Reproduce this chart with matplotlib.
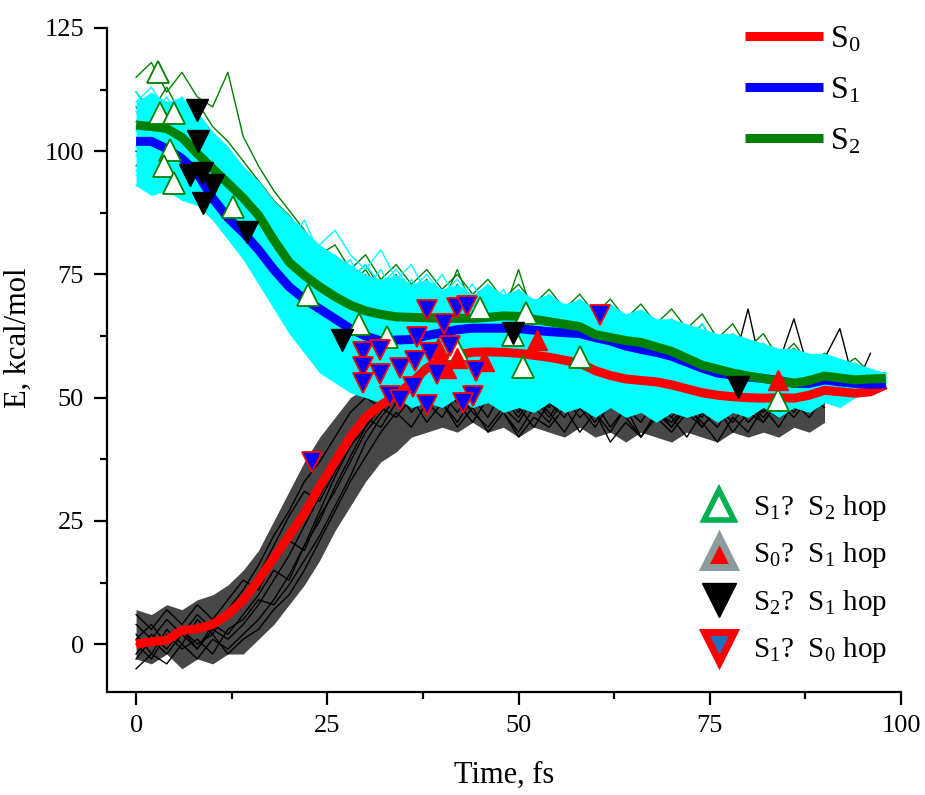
import numpy as np
import matplotlib
matplotlib.use("Agg")
import matplotlib.pyplot as plt
from matplotlib.lines import Line2D

plt.rcParams['font.family'] = ['Liberation Serif', 'DejaVu Serif']
plt.rcParams['mathtext.fontset'] = 'custom'
plt.rcParams['mathtext.rm'] = 'Liberation Serif'
plt.rcParams['mathtext.it'] = 'Liberation Serif:italic'

# ---------------- data ----------------
# averaged state energies
mean_t = [0, 2, 4, 6, 8, 10, 12, 14, 16, 18, 20, 22, 24, 26, 28, 30, 32, 34, 36, 38, 40,
          42, 44, 46, 48, 50, 52, 54, 56, 58, 60, 62, 64, 66, 68, 70, 72, 74, 76, 78, 80,
          82, 84, 86, 88, 90, 92, 94, 96, 98]
s0_mean = [0, 0.5, 0.8, 2.8, 3.1, 4.0, 6.0, 8.9, 13, 17.5, 22, 26.5, 32, 37, 42, 46, 48.5, 50.5, 53, 56, 57.6,
           58.7, 59.2, 59.3, 59.2, 59.0, 58.6, 58.2, 57.6, 57.0, 55.5, 54.5, 53.8, 53.5, 53.2, 52.6, 51.8, 51.0, 50.5, 50.2, 50.0,
           49.9, 50.0, 49.9, 50.5, 51.5, 51.2, 50.9, 51.2, 52.6]
s1_mean = [102, 102, 100.5, 98.5, 95.5, 90.5, 86.5, 83.5, 80, 76, 72.5, 70, 68, 66, 64, 62.5, 61.5, 61.7, 61.8, 62.6, 63.2,
           63.8, 64.1, 64.1, 64.1, 64.0, 63.7, 63.4, 63.2, 63.0, 62.2, 61.5, 60.5, 59.8, 59.2, 58.4, 57.2, 56.0, 55.0, 54.6, 54.2,
           53.9, 53.5, 52.9, 52.9, 53.6, 53.2, 52.9, 52.7, 52.8]
s2_mean = [105.3, 105.0, 104.6, 102.8, 99.5, 96.5, 93.5, 90.5, 87, 82, 77.5, 74.8, 72.5, 70.5, 68.8, 67.6, 66.9, 66.4, 66.3, 66.2, 66.1,
           66.1, 66.1, 66.3, 66.6, 66.5, 65.9, 65.4, 64.9, 64.4, 62.8, 62.2, 61.6, 61.2, 60.3, 59.4, 58.0, 56.6, 55.8, 55.0, 54.4,
           53.9, 53.4, 52.9, 53.5, 54.4, 54.0, 53.6, 53.8, 53.9]

# dense envelopes of the trajectory bundles, every 2 fs from t = 0
s1_band_low = [93, 91, 92, 90, 89, 86, 82, 78, 73, 68, 63, 59, 55, 53, 51, 50, 49, 50, 48, 49,
               48, 50, 48, 49, 47, 48, 47, 49, 47, 48, 46, 48, 46, 47, 45, 47, 46, 47, 45, 47,
               46, 48, 46, 48, 47, 49, 48, 50, 51, 52]
s1_band_high = [110, 112, 110, 111, 108, 104, 101, 97, 94, 90, 87, 84, 81, 79, 77, 75, 74, 75, 73, 74,
                72, 73, 71, 73, 71, 72, 70, 71, 69, 70, 68, 69, 67, 68, 66, 66, 65, 64, 63, 63,
                62, 61, 60, 60, 59, 59, 58, 57, 56, 55]
s0_band_low = [-3, -4, -2, -5, -3, -4, -2, -2, 1, 4, 8, 12, 17, 23, 28, 33, 37, 39, 42, 43,
               44, 43, 45, 43, 44, 42, 44, 43, 42, 44, 42, 43, 41, 43, 42, 41, 43, 42, 41, 43,
               42, 43, 42, 44, 43, 45]
s0_band_high = [7, 6, 8, 7, 9, 10, 12, 15, 19, 25, 31, 37, 42, 46, 50, 52, 54, 55, 56, 55,
                56, 55, 56, 54, 55, 54, 55, 53, 54, 53, 54, 53, 52, 53, 52, 53, 52, 53, 52, 51,
                52, 51, 52, 51, 52, 52]

# individual trajectories, sampled every 2 fs from t = 0
s0_trajs = [
    [2, -2, 3, 0, 5, 2, 7, 11, 16, 22, 27, 33, 37, 42, 47, 50, 48, 52, 47, 51, 49, 45, 50, 46, 52, 48, 44, 49, 46, 51, 47, 43, 48, 45, 50, 46, 42, 47, 44, 49, 45, 48, 46, 50, 47, 51],
    [-3, 1, -2, 2, -1, 3, 1, 4, 8, 13, 18, 24, 30, 36, 41, 45, 50, 53, 49, 54, 51, 47, 52, 55, 50, 46, 51, 48, 53, 49, 45, 50, 47, 52, 48, 44, 49, 46, 51, 47, 49, 45, 50, 48, 52, 49],
    [6, 3, 7, 4, 8, 5, 9, 13, 11, 17, 21, 19, 26, 31, 37, 43, 47, 51, 55, 52, 48, 53, 50, 56, 51, 47, 52, 49, 54, 50, 46, 51, 48, 53, 49, 46, 50, 47, 52, 48, 51, 47, 53, 49, 54, 51],
    [-5, -2, -4, 0, -3, 1, -1, 2, 5, 9, 14, 20, 25, 32, 38, 44, 48, 46, 50, 45, 49, 44, 48, 43, 47, 42, 46, 44, 48, 43, 47, 41, 45, 42, 46, 43, 47, 44, 48, 45, 49, 46, 50, 47, 51, 50],
    [1, 4, 0, 3, -1, 4, 2, 6, 10, 15, 13, 20, 27, 34, 40, 44, 49, 52, 50, 55, 52, 49, 54, 51, 47, 53, 50, 46, 51, 48, 53, 50, 47, 52, 49, 54, 50, 47, 52, 48, 53, 49, 55, 50, 52, 53],
    [0, -3, 2, -1, 1, -2, 3, 5, 9, 8, 12, 17, 22, 28, 34, 41, 46, 50, 53, 48, 52, 49, 45, 50, 47, 43, 48, 45, 50, 46, 49, 44, 48, 42, 47, 45, 49, 44, 48, 43, 47, 45, 49, 46, 50, 48],
    [4, 1, 5, 2, 6, 3, 6, 10, 14, 20, 26, 31, 29, 35, 40, 46, 44, 49, 53, 50, 54, 51, 56, 52, 49, 54, 50, 53, 48, 52, 49, 55, 51, 47, 53, 49, 52, 48, 54, 50, 47, 52, 49, 53, 50, 52],
    [-2, 2, -1, 3, 0, 2, -2, 1, 3, 7, 10, 15, 21, 27, 33, 38, 43, 47, 44, 49, 46, 51, 47, 44, 48, 45, 50, 47, 43, 48, 44, 49, 46, 42, 47, 44, 48, 45, 41, 46, 43, 48, 44, 49, 46, 50],
    [100, 98, 101, 97, 95, 92, 88, 84, 79, 75, 71, 68, 65, 66, 63, 65, 62, 64, 61, 63, 60, 62, 59, 61, 58, 60, 57, 59, 56, 58, 55, 57, 54, 56, 53, 55, 52, 54, 53, 56, 68, 54, 57, 66, 55, 58, 64, 52, 59],
]
s1_trajs = [
    [108, 104, 109, 103, 100, 97, 93, 89, 85, 80, 76, 73, 70, 72, 68, 71, 67, 70, 66, 69, 65, 68, 64, 67, 63, 66, 62, 65, 61, 64, 60, 63, 59, 62, 58, 61, 57, 60, 56, 59, 55, 58, 56, 57, 55, 56, 54, 55, 53, 54],
    [96, 100, 95, 99, 94, 92, 88, 84, 79, 74, 70, 66, 62, 59, 56, 58, 54, 57, 53, 56, 52, 55, 51, 54, 50, 53, 52, 55, 51, 54, 50, 53, 49, 52, 48, 51, 50, 53, 49, 52, 51, 54, 50, 53, 52, 54, 51, 53, 52, 53],
    [112, 107, 111, 106, 108, 103, 99, 96, 91, 87, 83, 80, 77, 79, 74, 77, 73, 76, 72, 75, 71, 74, 70, 73, 69, 72, 68, 71, 67, 70, 66, 69, 64, 67, 63, 66, 62, 65, 60, 63, 58, 61, 57, 59, 56, 58, 55, 57, 54, 55],
    [101, 97, 102, 98, 96, 94, 91, 86, 81, 76, 71, 67, 63, 65, 61, 64, 60, 63, 59, 62, 58, 61, 57, 60, 56, 59, 55, 58, 54, 57, 53, 56, 52, 55, 51, 54, 50, 53, 52, 55, 51, 54, 53, 56, 52, 55, 53, 54, 52, 53],
    [104, 109, 103, 107, 101, 99, 95, 92, 88, 83, 85, 78, 74, 70, 73, 68, 71, 66, 69, 64, 67, 63, 66, 61, 64, 60, 63, 59, 62, 58, 61, 57, 60, 56, 59, 55, 58, 54, 57, 53, 56, 55, 57, 54, 56, 55, 54, 56, 53, 54],
    [93, 96, 92, 95, 91, 93, 89, 85, 80, 76, 72, 69, 66, 63, 60, 62, 58, 61, 57, 55, 58, 54, 57, 53, 56, 52, 55, 51, 54, 50, 53, 49, 52, 48, 51, 49, 52, 48, 51, 50, 53, 49, 52, 51, 53, 50, 52, 51, 52, 52],
    [110, 113, 108, 111, 106, 102, 98, 94, 90, 86, 82, 86, 79, 75, 78, 72, 76, 70, 74, 68, 72, 67, 71, 65, 69, 64, 68, 62, 66, 61, 65, 60, 64, 59, 63, 58, 62, 57, 60, 56, 59, 55, 58, 54, 57, 55, 56, 54, 55, 54],
    [99, 103, 98, 102, 97, 95, 90, 88, 83, 78, 74, 70, 67, 64, 66, 62, 65, 60, 63, 59, 62, 58, 61, 57, 60, 56, 59, 55, 58, 54, 57, 53, 56, 52, 55, 51, 54, 50, 53, 51, 54, 52, 55, 51, 54, 52, 53, 52, 53, 53],
    [105, 101, 106, 100, 103, 98, 96, 91, 87, 84, 80, 77, 81, 84, 79, 76, 80, 74, 77, 71, 75, 70, 73, 68, 72, 66, 70, 65, 69, 63, 67, 62, 66, 61, 64, 60, 63, 58, 61, 57, 60, 56, 58, 55, 57, 54, 56, 55, 54, 54],
    [95, 98, 94, 97, 93, 90, 87, 82, 78, 73, 69, 65, 61, 58, 55, 57, 53, 56, 52, 55, 51, 54, 50, 53, 49, 52, 48, 51, 50, 53, 49, 52, 48, 51, 47, 50, 49, 52, 48, 51, 50, 52, 49, 51, 50, 52, 51, 52, 51, 52],
]
s2_trajs = [
    [115, 118, 112, 116, 111, 109, 116, 103, 97, 92, 88, 84, 79, 81, 76, 79, 74, 77, 73, 76, 72, 75, 71, 74, 70, 73, 69, 72, 68, 71, 67, 70, 66, 69, 65, 68, 64, 67, 62, 65, 60, 63, 58, 61, 57, 59, 56, 58, 55, 55],
    [106, 110, 104, 108, 103, 100, 97, 93, 89, 86, 82, 79, 75, 78, 73, 76, 71, 74, 70, 73, 69, 76, 68, 72, 67, 71, 66, 70, 65, 69, 64, 68, 63, 67, 62, 66, 61, 65, 60, 63, 59, 61, 58, 60, 57, 58, 56, 57, 55, 54],
    [112, 108, 113, 107, 110, 105, 102, 98, 94, 90, 87, 83, 80, 77, 74, 77, 72, 75, 71, 74, 69, 73, 68, 72, 67, 76, 66, 70, 65, 69, 64, 67, 62, 66, 61, 64, 59, 63, 58, 62, 57, 60, 56, 59, 55, 57, 54, 56, 54, 54],
    [97, 101, 95, 100, 94, 96, 92, 95, 90, 86, 83, 79, 76, 73, 70, 73, 68, 71, 67, 70, 66, 69, 65, 68, 64, 67, 63, 66, 62, 65, 61, 64, 60, 63, 59, 61, 58, 60, 57, 59, 56, 58, 55, 57, 54, 56, 54, 55, 53, 53],
    [109, 104, 110, 105, 107, 103, 99, 96, 92, 88, 84, 81, 78, 75, 72, 75, 70, 73, 69, 72, 68, 71, 67, 70, 66, 69, 65, 68, 64, 67, 63, 66, 62, 64, 61, 63, 60, 62, 58, 61, 57, 60, 56, 58, 55, 57, 54, 56, 54, 54],
]

# hopping events
hop12_t = [2.9, 3.1, 4.9, 4.4, 3.6, 4.9, 12.7, 22.5, 29.1, 32.8, 45.0, 51.0, 41.9, 50.6, 58.0, 49.3, 83.9]
hop12_e = [116.1, 107.7, 107.7, 100.2, 96.9, 93.5, 88.7, 70.8, 65.0, 62.4, 68.1, 67.1, 59.7, 56.3, 58.3, 62.7, 49.5]
hop01_t = [39.5, 40.5, 42.0, 45.5, 52.4, 83.9]
hop01_e = [60.0, 56.0, 58.0, 57.5, 61.7, 53.6]
hop21_t = [7.9, 8.1, 7.1, 8.6, 10.1, 8.8, 14.5, 26.9, 49.3, 78.7]
hop21_e = [108.4, 102.0, 95.2, 95.5, 93.1, 89.4, 83.7, 61.7, 63.1, 52.2]
hop10_t = [38.0, 41.9, 43.2, 40.2, 36.7, 29.7, 31.9, 29.7, 31.9, 29.7, 33.2, 34.5, 38.0, 36.2, 39.3, 38.4,
           41.0, 44.1, 42.8, 60.7, 23.0, 34.5, 36.5, 44.5]
hop10_e = [67.8, 68.1, 68.5, 65.0, 62.4, 59.3, 59.7, 56.3, 54.9, 52.9, 50.3, 49.5, 48.5, 52.2, 54.9, 59.0,
           60.4, 50.3, 48.9, 66.8, 37.0, 56.0, 57.5, 55.5]

state_labels = ['S$_0$', 'S$_1$', 'S$_2$']
hop_labels = ['S$_1$?  S$_2$ hop', 'S$_0$?  S$_1$ hop', 'S$_2$?  S$_1$ hop', 'S$_1$?  S$_0$ hop']

# ---------------- figure ----------------
fig = plt.figure(figsize=(9.25, 7.95), dpi=100)
ax = fig.add_axes([0.1157, 0.1296, 0.8584, 0.8352])

C_CYAN = '#00ffff'
C_GREEN = '#008000'

# S0 bundle
ax.fill_between(2 * np.arange(len(s0_band_low)), s0_band_low, s0_band_high,
                color='black', alpha=0.72, lw=0, zorder=1)
for tr in s0_trajs:
    ax.plot(2 * np.arange(len(tr)), tr, color='black', lw=1.0, zorder=2)
# S2 bundle
for tr in s2_trajs:
    ax.plot(2 * np.arange(len(tr)), tr, color=C_GREEN, lw=1.0, zorder=3)
# S1 bundle
ax.fill_between(2 * np.arange(len(s1_band_low)), s1_band_low, s1_band_high,
                color=C_CYAN, lw=0, zorder=4)
for tr in s1_trajs:
    ax.plot(2 * np.arange(len(tr)), tr, color=C_CYAN, lw=1.0, zorder=5)

# averaged curves
ax.plot(mean_t, s0_mean, color='#ff0000', lw=6.5, solid_capstyle='butt', zorder=7)
ax.plot(mean_t, s1_mean, color='#0000ff', lw=6.5, solid_capstyle='butt', zorder=7)
ax.plot(mean_t, s2_mean, color=C_GREEN, lw=6.5, solid_capstyle='butt', zorder=7)

# hop markers
ax.plot(hop12_t, hop12_e, ls='none', marker='^', ms=16, mfc='white', mec=C_GREEN, mew=1.3, zorder=8)
ax.plot(hop21_t, hop21_e, ls='none', marker='v', ms=16, mfc='black', mec='black', mew=1.0, zorder=8)
ax.plot(hop01_t, hop01_e, ls='none', marker='^', ms=15, mfc='#ff0000', mec='#ff0000', mew=1.0, zorder=9)
ax.plot(hop10_t, hop10_e, ls='none', marker='v', ms=15, mfc='#0000ff', mec='#ff0000', mew=1.3, zorder=9)

# axes style
ax.set_xlim(-3.8, 100)
ax.set_ylim(-9.7, 125)
ax.spines['top'].set_visible(False)
ax.spines['right'].set_visible(False)
for s in ('left', 'bottom'):
    ax.spines[s].set_linewidth(1.6)
ax.set_xticks([0, 25, 50, 75, 100])
ax.set_xticks([12.5, 37.5, 62.5, 87.5], minor=True)
ax.set_yticks([0, 25, 50, 75, 100, 125])
ax.set_yticks([12.5, 37.5, 62.5, 87.5, 112.5], minor=True)
ax.tick_params(which='major', direction='out', length=9.5, width=1.6, labelsize=19, pad=7)
ax.tick_params(which='minor', direction='out', length=5, width=1.6)
ax.set_xlabel('Time, fs', fontsize=22)
ax.set_ylabel('E, kcal/mol', fontsize=22)
ax.xaxis.set_label_coords(0.5, -0.104)
ax.yaxis.set_label_coords(-0.093, 0.533)

# legend for states
state_handles = [Line2D([], [], color=c, lw=6.5, solid_capstyle='butt')
                 for c in ('#ff0000', '#0000ff', C_GREEN)]
leg1 = ax.legend(state_handles, state_labels, loc='upper left', bbox_to_anchor=(0.8035, 1.005),
                 frameon=False, fontsize=23, handlelength=2.45, handletextpad=0.2,
                 labelspacing=0.68, borderpad=0, borderaxespad=0)
ax.add_artist(leg1)

hop_handles = [
    Line2D([], [], ls='none', marker='^', ms=21, mfc='white', mec='#00b050', mew=4),
    Line2D([], [], ls='none', marker='^', ms=21, mfc='#ff0000', mec='#8c9c9c', mew=5),
    Line2D([], [], ls='none', marker='v', ms=24, mfc='black', mec='black', mew=1),
    Line2D([], [], ls='none', marker='v', ms=21, mfc='#1f6fbf', mec='#ff0000', mew=5),
]
ax.legend(hop_handles, hop_labels, loc='upper left', bbox_to_anchor=(0.747, 0.30),
          frameon=False, fontsize=21, handlelength=1.3, handletextpad=0.5,
          labelspacing=0.60, borderpad=0, borderaxespad=0)

fig.savefig('out.png', dpi=100)
